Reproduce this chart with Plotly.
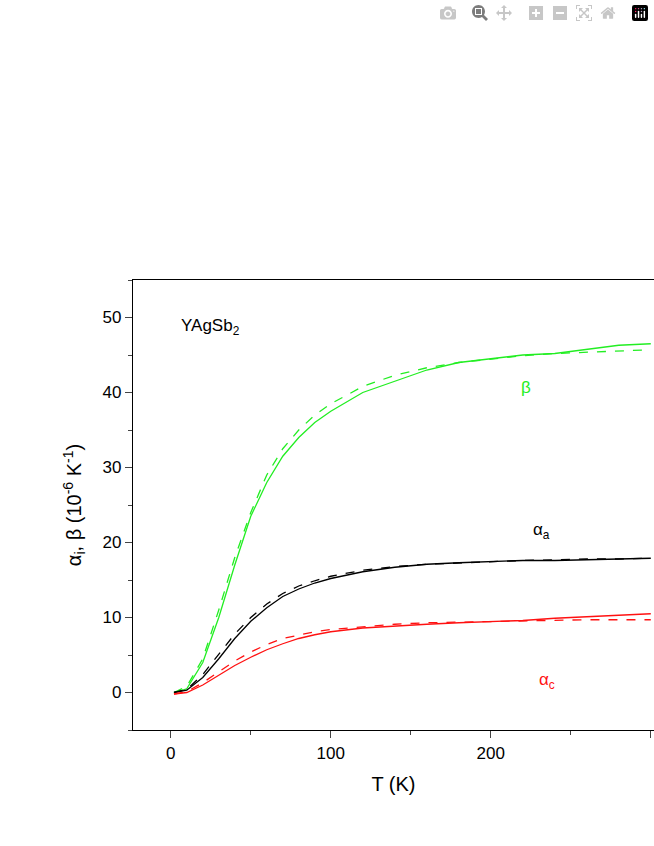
import plotly.graph_objects as go

T = [2,10,20,30,40,50,60,70,80,90,100,120,140,160,180,200,220,240,260,280,300]
beta_meas = [0,0.5,4,10,17,23.5,28,31.5,34,36,37.5,40,41.5,43,44,44.5,45,45.2,45.8,46.3,46.5]
beta_fit = [0,0.8,4.5,11,18,24,29,32.5,35,37,38.5,40.8,42.3,43.3,44,44.5,44.9,45.2,45.4,45.6,45.7]
aa_meas = [0,0.3,2,4.5,7.2,9.5,11.3,12.8,13.8,14.6,15.2,16.1,16.7,17.1,17.3,17.5,17.6,17.6,17.7,17.8,17.9]
aa_fit = [0,0.4,2.4,5.1,7.8,10,11.8,13.2,14.2,14.9,15.5,16.3,16.8,17.1,17.3,17.5,17.6,17.7,17.8,17.8,17.9]
ac_meas = [-0.2,0,1,2.3,3.6,4.7,5.7,6.5,7.2,7.7,8.1,8.6,8.9,9.1,9.3,9.4,9.6,9.9,10.1,10.3,10.5]
ac_fit = [-0.2,0.1,1.3,2.8,4.2,5.4,6.4,7.2,7.7,8.1,8.4,8.8,9.1,9.3,9.4,9.5,9.6,9.6,9.7,9.7,9.7]

green, black, red = "#22ee22", "black", "#ff1111"
fig = go.Figure()
for y, c, d in [(beta_meas, green, "solid"), (beta_fit, green, "dash"),
                (aa_meas, black, "solid"), (aa_fit, black, "dash"),
                (ac_meas, red, "solid"), (ac_fit, red, "dash")]:
    fig.add_trace(go.Scatter(x=T, y=y, mode="lines", line=dict(color=c, width=1.3, dash=d), showlegend=False))

anns = [(5, 48.7, "YAgSb<sub>2</sub>", black, "left"), (222, 40.7, "β", green, "center"),
        (232, 21.5, "α<sub>a</sub>", black, "center"), (235, 1.5, "α<sub>c</sub>", red, "center")]
for x, y, t, c, a in anns:
    fig.add_annotation(x=x, y=y, text=t, showarrow=False, xanchor=a, font=dict(color=c, size=17))

ax = dict(showline=True, linecolor="black", linewidth=1.3, ticks="outside", ticklen=7, tickwidth=1.3,
          showgrid=False, zeroline=False, tickfont=dict(size=17), title_font=dict(size=20),
          minor=dict(ticks="outside", ticklen=4, tickwidth=1.3))
fig.update_xaxes(**ax, range=[-23.6, 302], dtick=100, minor_dtick=50, title_text="T (K)", mirror=True)
fig.update_yaxes(**ax, range=[-5, 55], dtick=10, minor_dtick=5, mirror=True,
                 title_text="α<sub>i</sub>, β (10<sup>-6</sup> K<sup>-1</sup>)")
fig.update_layout(width=654, height=846, margin=dict(l=133, r=0, t=280, b=116),
                  plot_bgcolor="white", paper_bgcolor="white",
                  font=dict(family="Liberation Sans, Arial", color="black"))
fig.write_html("out.html", post_script="document.body.style.margin='0';document.body.style.overflow='hidden';")
